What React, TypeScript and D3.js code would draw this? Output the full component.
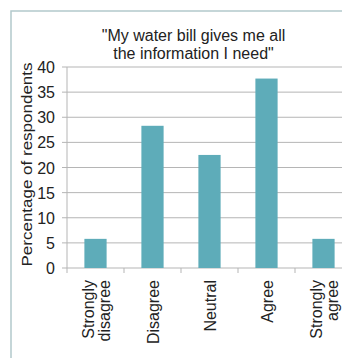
import React from "react";
import * as d3 from "d3";

const categories = [["Strongly", "disagree"], ["Disagree"], ["Neutral"], ["Agree"], ["Strongly", "agree"]];
const values = [5.8, 28.3, 22.5, 37.7, 5.8];
const yTicks = [0, 5, 10, 15, 20, 25, 30, 35, 40];
const titleLines = ['"My water bill gives me all', 'the information I need"'];
const yTitle = "Percentage of respondents";

const W = 342;
const H = 358;
const left = 67;
const right = 352;
const top = 67;
const bottom = 268;
const font = "Liberation Sans, Arial, sans-serif";

export default function App() {
  const keys = categories.map((c) => c.join(" "));
  const x = d3.scaleBand<string>().domain(keys).range([left, right]).paddingInner(0.61).paddingOuter(0.305);
  const xb = d3.scaleBand<string>().domain(keys).range([left, right]);
  const y = d3.scaleLinear().domain([0, 40]).range([bottom, top]);

  return (
    <svg width={W} height={H} style={{ position: "absolute", left: 0, top: 0 }} fontFamily={font}>
      <rect x={0} y={0} width={W} height={H} fill="#fff" />
      <rect x={11} y={11} width={W + 20} height={H + 20} fill="#fff" stroke="#b3c9cc" strokeWidth={1.5} />
      {titleLines.map((t, i) => (
        <text key={i} x={193.5} y={41 + i * 18} textAnchor="middle" fontSize={16} fill="#222">
          {t}
        </text>
      ))}
      {yTicks.map((t) => (
        <g key={t}>
          <line x1={left} x2={right} y1={y(t)} y2={y(t)} stroke="#b5b5b5" strokeWidth={1} />
          <line x1={left - 5} x2={left} y1={y(t)} y2={y(t)} stroke="#b5b5b5" strokeWidth={1} />
          <text x={left - 12} y={y(t) + 6} textAnchor="end" fontSize={16} fill="#222">
            {t}
          </text>
        </g>
      ))}
      <line x1={left} x2={left} y1={top} y2={bottom} stroke="#b5b5b5" strokeWidth={1} />
      {keys.map((k, i) => (
        <rect key={k} x={x(k)} y={y(values[i])} width={x.bandwidth()} height={bottom - y(values[i])} fill="#5eacb9" />
      ))}
      {keys.map((k) => (
        <line key={"t" + k} x1={xb(k) ?? 0} x2={xb(k) ?? 0} y1={bottom} y2={bottom + 5} stroke="#b5b5b5" />
      ))}
      {categories.map((lines, i) => {
        const cx = (xb(keys[i]) ?? 0) + xb.bandwidth() / 2;
        return (
          <text key={"l" + i} transform={`translate(${cx},280) rotate(-90)`} textAnchor="end" fontSize={16} fill="#222">
            {lines.map((ln, j) => (
              <tspan key={j} x={0} y={(j - (lines.length - 1) / 2) * 16 + 6}>
                {ln}
              </tspan>
            ))}
          </text>
        );
      })}
      <text
        transform={`translate(32,164.5) rotate(-90)`}
        textAnchor="middle"
        fontSize={15}
        textLength={204}
        lengthAdjust="spacingAndGlyphs"
        fill="#222"
      >
        {yTitle}
      </text>
    </svg>
  );
}
